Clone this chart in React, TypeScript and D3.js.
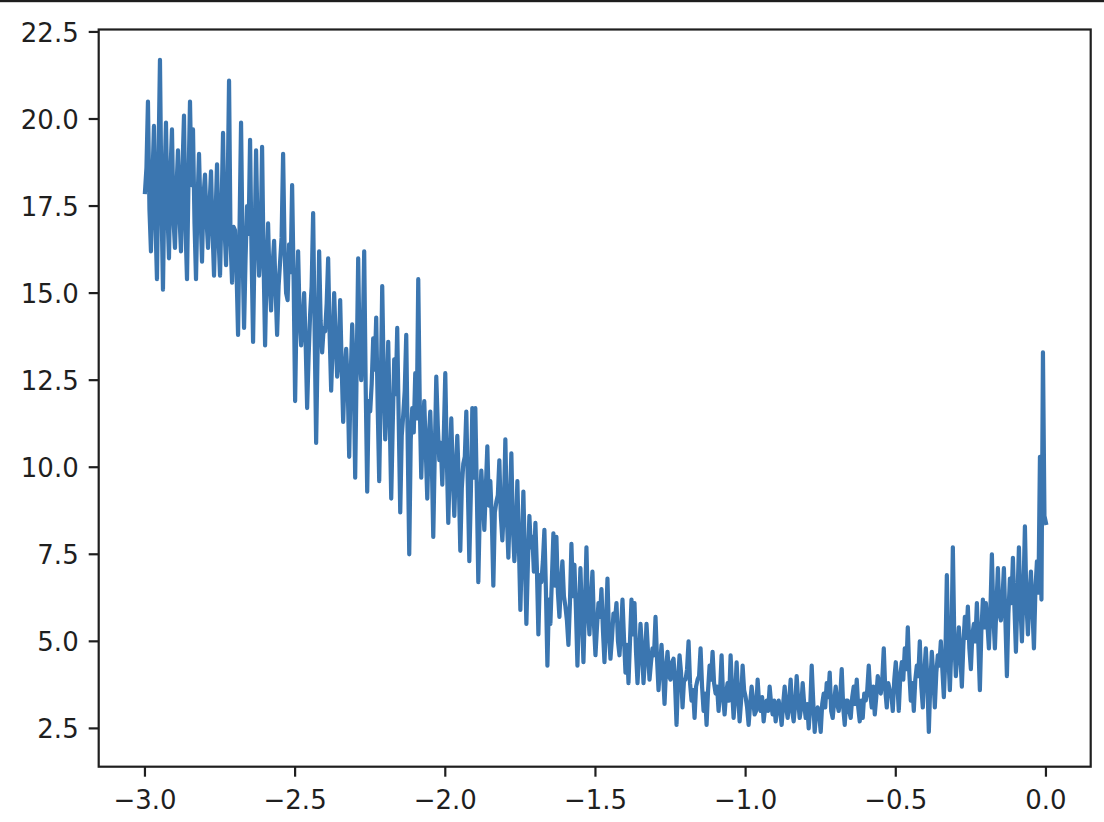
import React from "react";
import * as d3 from "d3";

const X_START = -3.0;
const X_END = 0.0;

const yValues: number[] = [
  17.9, 18.6, 20.5, 17.4, 16.2, 18.3, 19.8, 17.0, 15.4, 18.8, 21.7, 17.6, 15.1, 18.2, 19.9, 17.3, 16.0, 18.5, 19.7, 17.1,
  16.3, 18.0, 19.1, 17.2, 16.2, 18.6, 20.1, 16.9, 15.4, 18.2, 20.5, 18.1, 19.7, 17.0, 15.4, 17.6, 19.0, 17.3, 15.9, 17.8,
  18.4, 17.1, 16.3, 17.5, 18.5, 16.8, 15.5, 17.2, 18.7, 16.6, 15.5, 17.4, 19.6, 16.9, 15.8, 17.7, 21.1, 16.5, 15.3, 16.9,
  16.8, 15.6, 13.8, 16.9, 19.9, 16.2, 14.0, 16.0, 17.5, 16.7, 19.4, 16.1, 13.6, 16.4, 19.1, 16.8, 15.5, 16.3, 19.2, 15.9,
  13.5, 15.7, 17.0, 15.3, 14.5, 15.8, 16.5, 15.1, 13.8, 15.2, 15.9, 16.6, 19.0, 16.2, 15.0, 14.8, 16.4, 15.6, 18.1, 15.4,
  11.9, 14.6, 16.2, 14.3, 13.5, 14.1, 15.0, 13.6, 11.7, 13.2, 14.4, 15.2, 17.3, 13.9, 10.7, 13.4, 16.2, 14.2, 13.3, 14.0,
  13.9, 14.7, 16.0, 13.8, 12.2, 13.5, 15.0, 13.7, 12.6, 13.1, 14.8, 12.9, 11.3, 12.7, 13.4, 12.4, 10.3, 12.6, 14.1, 12.8,
  9.7, 12.9, 16.0, 13.2, 12.5, 13.6, 16.2, 12.3, 9.3, 11.9, 11.6, 12.4, 13.7, 12.8, 14.3, 11.7, 9.6, 12.2, 15.2, 12.6,
  10.8, 12.0, 13.6, 11.4, 9.1, 11.2, 13.1, 12.1, 14.0, 11.3, 8.7, 10.9, 11.5, 12.2, 13.8, 10.6, 7.5, 10.8, 11.7, 11.0,
  12.7, 11.4, 15.4, 11.8, 9.7, 11.1, 11.9, 10.5, 9.1, 10.8, 11.6, 10.2, 8.0, 10.4, 12.6, 11.2, 10.2, 10.7, 9.5, 10.9,
  12.7, 10.3, 8.4, 10.0, 11.4, 9.8, 8.6, 9.9, 10.9, 9.6, 7.6, 9.4, 10.1, 10.3, 11.6, 9.5, 7.3, 9.2, 11.7, 9.7,
  11.7, 9.3, 6.7, 8.8, 9.9, 9.1, 8.2, 9.4, 10.6, 8.9, 9.6, 8.5, 6.6, 8.7, 9.0, 9.2, 10.2, 8.6, 7.9, 8.8,
  10.8, 8.6, 7.4, 8.9, 10.4, 8.3, 7.3, 8.1, 9.6, 7.8, 5.9, 7.6, 9.3, 7.4, 5.5, 7.2, 8.6, 7.7, 8.0, 7.0,
  8.4, 7.1, 5.2, 6.9, 6.7, 7.3, 8.2, 6.5, 4.3, 6.2, 5.5, 6.8, 8.1, 6.6, 8.0, 6.4, 5.7, 6.7, 7.3, 6.3,
  6.0, 5.6, 4.9, 6.1, 7.8, 6.3, 7.2, 5.9, 4.3, 5.8, 7.1, 5.7, 4.4, 6.0, 7.7, 5.9, 5.2, 6.2, 7.0, 5.5,
  4.6, 5.4, 6.1, 5.7, 6.5, 5.3, 4.4, 5.5, 6.8, 5.2, 4.5, 5.1, 5.8, 5.6, 6.1, 5.0, 4.6, 5.3, 6.2, 5.1,
  4.1, 4.9, 3.8, 5.0, 6.2, 5.2, 6.1, 4.7, 3.8, 4.6, 5.5, 4.8, 3.8, 4.5, 5.5, 4.7, 3.9, 4.4, 4.8, 4.6,
  5.7, 4.5, 3.6, 4.3, 4.9, 4.1, 3.2, 4.2, 4.7, 4.0, 3.9, 4.4, 4.5, 3.8, 2.6, 3.9, 4.6, 4.1, 3.1, 3.9,
  3.9, 4.2, 5.0, 3.8, 3.3, 3.6, 2.8, 3.7, 3.9, 4.0, 4.8, 3.7, 3.0, 3.5, 2.6, 3.6, 4.3, 3.9, 4.7, 3.8,
  3.5, 3.7, 3.0, 3.6, 4.6, 3.4, 2.9, 3.5, 3.8, 3.3, 4.6, 3.6, 2.8, 3.4, 4.4, 3.5, 2.7, 3.3, 4.3, 3.6,
  3.4, 3.1, 2.6, 3.2, 3.7, 3.3, 2.9, 3.0, 3.9, 3.2, 3.0, 3.4, 2.7, 3.1, 3.3, 3.0, 3.7, 3.2, 2.9, 3.3,
  2.7, 3.1, 3.3, 3.0, 2.6, 3.2, 3.7, 3.1, 2.8, 3.3, 3.9, 3.0, 2.7, 3.2, 4.0, 3.3, 2.8, 3.1, 3.8, 3.2,
  2.8, 3.2, 2.5, 3.1, 4.3, 3.3, 2.4, 3.0, 3.1, 2.9, 2.4, 3.2, 3.5, 3.1, 3.8, 3.4, 4.1, 3.0, 2.8, 3.3,
  3.7, 3.2, 3.0, 3.4, 4.2, 3.1, 2.6, 3.3, 3.3, 3.0, 2.8, 3.4, 3.7, 3.2, 3.9, 3.1, 2.7, 3.3, 2.8, 3.5,
  3.3, 3.6, 4.3, 3.5, 3.1, 3.7, 2.9, 3.4, 4.0, 3.8, 3.5, 3.9, 4.8, 3.6, 3.1, 3.8, 3.6, 3.5, 3.0, 3.9,
  4.4, 3.8, 3.0, 4.0, 4.4, 3.9, 4.8, 4.2, 5.4, 4.1, 3.3, 3.8, 3.0, 3.9, 4.3, 4.0, 5.0, 3.7, 3.1, 4.1,
  4.8, 3.9, 2.4, 3.8, 4.7, 4.0, 3.1, 4.1, 4.6, 4.3, 5.0, 4.2, 3.4, 4.5, 6.9, 4.6, 3.6, 4.8, 7.7, 5.0,
  4.0, 4.7, 5.4, 4.6, 3.7, 4.9, 5.7, 5.1, 6.0, 4.8, 4.2, 5.2, 5.5, 5.0, 6.1, 4.9, 3.6, 5.3, 6.2, 5.4,
  6.1, 5.5, 4.8, 5.9, 7.5, 5.7, 4.8, 6.0, 7.1, 5.8, 5.6, 6.2, 7.1, 5.6, 4.0, 5.8, 6.8, 6.1, 7.4, 6.0,
  4.7, 6.2, 7.7, 6.0, 5.0, 6.4, 8.3, 6.1, 5.2, 6.3, 7.0, 5.9, 4.8, 6.5, 7.3, 6.4, 10.3, 6.2, 13.3, 8.6,
  8.4,
];

const xTicks: number[] = [-3.0, -2.5, -2.0, -1.5, -1.0, -0.5, 0.0];
const xTickLabels: string[] = ["\u22123.0", "\u22122.5", "\u22122.0", "\u22121.5", "\u22121.0", "\u22120.5", "0.0"];
const yTicks: number[] = [2.5, 5.0, 7.5, 10.0, 12.5, 15.0, 17.5, 20.0, 22.5];
const yTickLabels: string[] = ["2.5", "5.0", "7.5", "10.0", "12.5", "15.0", "17.5", "20.0", "22.5"];

const W = 1104;
const H = 822;
const LEFT = 98.7;
const RIGHT = 1090.7;
const TOP = 29.5;
const BOTTOM = 766.7;

export default function App() {
  const n = yValues.length;
  const data = yValues.map((y, i) => ({ x: X_START + (i * (X_END - X_START)) / (n - 1), y }));

  const x = d3.scaleLinear().domain([-3.154, 0.149]).range([LEFT, RIGHT]);
  const y = d3.scaleLinear().domain([1.4, 22.57]).range([BOTTOM, TOP]);

  const line = d3
    .line<{ x: number; y: number }>()
    .x((d) => x(d.x))
    .y((d) => y(d.y));

  const font = "'DejaVu Sans', sans-serif";
  const fs = 26;
  const axisColor = "#1f1f1f";

  return (
    <svg
      width={W}
      height={H}
      style={{ position: "absolute", left: 0, top: 0, background: "#fff" }}
    >
      <rect x={0} y={0} width={W} height={H} fill="#fff" />
      <rect x={0} y={0} width={W} height={2.2} fill="#1e1e1e" />
      <path
        d={line(data) || ""}
        fill="none"
        stroke="#3b76b0"
        strokeWidth={4.2}
        strokeLinejoin="round"
        strokeLinecap="square"
      />
      <rect
        x={LEFT}
        y={TOP}
        width={RIGHT - LEFT}
        height={BOTTOM - TOP}
        fill="none"
        stroke={axisColor}
        strokeWidth={2.2}
      />
      {xTicks.map((t, i) => (
        <g key={"x" + i}>
          <line x1={x(t)} x2={x(t)} y1={BOTTOM} y2={BOTTOM + 10} stroke={axisColor} strokeWidth={2.2} />
          <text
            x={x(t)}
            y={BOTTOM + 42}
            textAnchor="middle"
            fontFamily={font}
            fontSize={fs}
            fill={axisColor}
          >
            {xTickLabels[i]}
          </text>
        </g>
      ))}
      {yTicks.map((t, i) => (
        <g key={"y" + i}>
          <line x1={LEFT - 10} x2={LEFT} y1={y(t)} y2={y(t)} stroke={axisColor} strokeWidth={2.2} />
          <text
            x={LEFT - 20}
            y={y(t) + 10}
            textAnchor="end"
            fontFamily={font}
            fontSize={fs}
            fill={axisColor}
          >
            {yTickLabels[i]}
          </text>
        </g>
      ))}
    </svg>
  );
}
